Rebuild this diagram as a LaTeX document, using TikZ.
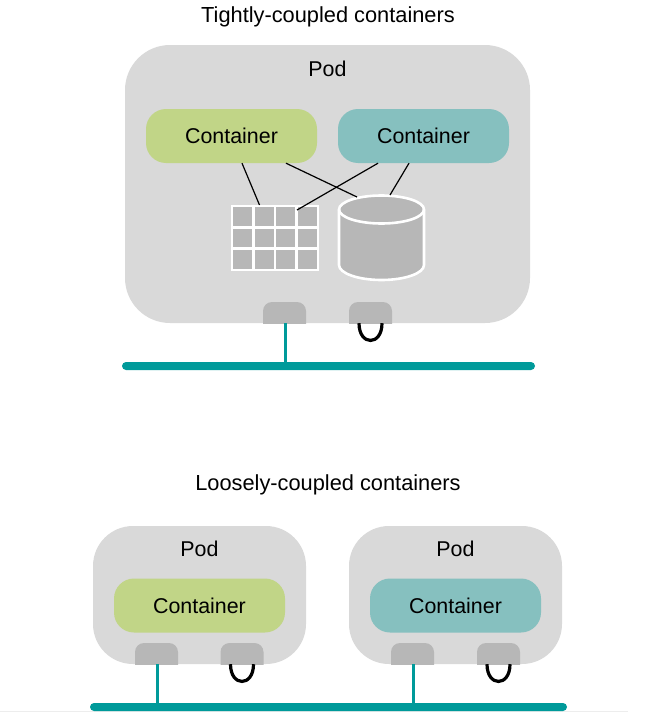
\documentclass[tikz,border=0pt]{standalone}
\usepackage{fontspec}
\setmainfont{Liberation Sans}
\definecolor{podgray}{HTML}{D9D9D9}
\definecolor{portgray}{HTML}{B7B7B7}
\definecolor{contgreen}{HTML}{C1D587}
\definecolor{contteal}{HTML}{86C0BF}
\definecolor{netteal}{HTML}{009A9A}
\tikzset{
    podbox/.style={fill=podgray, inner sep=0pt},
    contbox/.style={minimum width=171pt, minimum height=54pt, inner sep=0pt, rounded corners=20pt, font=\fontsize{21.4}{24}\selectfont},
    portbox/.style={minimum width=43pt, minimum height=21pt, inner sep=0pt,
        path picture={\fill[portgray, rounded corners=9pt] (path picture bounding box.north west) rectangle ([yshift=-15pt]path picture bounding box.south east);}},
    busbar/.style={fill=netteal, inner sep=0pt, minimum height=8pt, rounded corners=4pt},
    netlink/.style={draw=netteal, line width=3pt},
    looplink/.style={draw=black, line width=3.2pt},
    datalink/.style={draw=black, line width=1.2pt},
    storeline/.style={draw=white, line width=2.6pt},
    titletext/.style={font=\fontsize{21.8}{24}\selectfont},
    podtext/.style={font=\fontsize{21.4}{24}\selectfont},
}
\begin{document}
\begin{tikzpicture}[x=1pt, y=-1pt]
    \useasboundingbox (0,0) rectangle (669,712);

    \draw[draw=black!7, line width=1pt] (0,711.5) -- (628,711.5); % bottom edge

    % tightly coupled
    \node[titletext] (titleA) at (328,17) {Tightly-coupled containers};
    \node[podbox, minimum width=405pt, minimum height=278pt, rounded corners=45pt] (podA) at (327.5,184) {};
    \node[podtext] (podlabelA) at (327.5,68.5) {Pod};
    \node[contbox, fill=contgreen] (contA) at (231.5,136) {\raisebox{-1.5pt}{Container}};
    \node[contbox, fill=contteal] (contB) at (423.5,136) {\raisebox{-1.5pt}{Container}};

    % table
    \node[fill=portgray, draw=white, line width=2.6pt, minimum width=86pt, minimum height=64pt, inner sep=0pt] (tableA) at (275,238) {};
    \draw[storeline] (253.5,206) -- (253.5,270);
    \draw[storeline] (275,206) -- (275,270);
    \draw[storeline] (296.5,206) -- (296.5,270);
    \draw[storeline] (232,227.3) -- (318,227.3);
    \draw[storeline] (232,248.7) -- (318,248.7);

    % disk
    \draw[storeline, fill=portgray] (339,209.5) -- (339,265) arc[start angle=180, end angle=360, x radius=42.5pt, y radius=15pt] -- (424,209.5) arc[start angle=0, end angle=180, x radius=42.5pt, y radius=14pt] -- cycle;
    \draw[storeline] (339,209.5) arc[start angle=180, end angle=360, x radius=42.5pt, y radius=14pt];

    \coordinate (tableA1) at (259.5,205);
    \coordinate (tableA2) at (297,210);
    \coordinate (diskA1) at (357,197);
    \coordinate (diskA2) at (390,195);
    \draw[datalink] ([xshift=10.5pt]contA.south) -- (tableA1); % green -> table
    \draw[datalink] ([xshift=54.5pt]contA.south) -- (diskA1); % green -> disk
    \draw[datalink] ([xshift=-45.5pt]contB.south) -- (tableA2); % teal -> table
    \draw[datalink] ([xshift=-14.5pt]contB.south) -- (diskA2); % teal -> disk

    % ports and network
    \node[busbar, minimum width=413pt] (busA) at (328.5,366) {};
    \node[portbox] (portA) at (284.5,312.5) {};
    \node[portbox] (portB) at (370.5,312.5) {};
    \draw[netlink] ([xshift=.5pt]portA.south) -- ([xshift=.5pt]portA.south |- busA.center); % port -> bus
    \draw[looplink] ([xshift=-11.5pt]portB.south) .. controls +(0,23) and +(0,23) .. ([xshift=11.5pt]portB.south); % loopback

    % loosely coupled
    \node[titletext] (titleB) at (328,485) {Loosely-coupled containers};
    \node[podbox, minimum width=213pt, minimum height=138pt, rounded corners=40pt] (podB) at (199.5,595) {};
    \node[podbox, minimum width=213pt, minimum height=138pt, rounded corners=40pt] (podC) at (455.5,595) {};
    \node[podtext] (podlabelB) at (199.5,548.5) {Pod};
    \node[podtext] (podlabelC) at (455.5,548.5) {Pod};
    \node[contbox, fill=contgreen] (contC) at (199.5,605.5) {\raisebox{-1.5pt}{Container}};
    \node[contbox, fill=contteal] (contD) at (455.5,605.5) {\raisebox{-1.5pt}{Container}};

    \node[busbar, minimum width=477pt] (busB) at (328.5,707) {};
    \node[portbox] (portC) at (156.5,653.5) {};
    \node[portbox] (portD) at (242,653.5) {};
    \node[portbox] (portE) at (412.5,653.5) {};
    \node[portbox] (portF) at (498.5,653.5) {};
    \draw[netlink] ([xshift=.5pt]portC.south) -- ([xshift=.5pt]portC.south |- busB.center); % port -> bus
    \draw[netlink] ([xshift=.5pt]portE.south) -- ([xshift=.5pt]portE.south |- busB.center); % port -> bus
    \draw[looplink] ([xshift=-11.5pt]portD.south) .. controls +(0,23) and +(0,23) .. ([xshift=11.5pt]portD.south); % loopback
    \draw[looplink] ([xshift=-11.5pt]portF.south) .. controls +(0,23) and +(0,23) .. ([xshift=11.5pt]portF.south); % loopback

\end{tikzpicture}
\end{document}
